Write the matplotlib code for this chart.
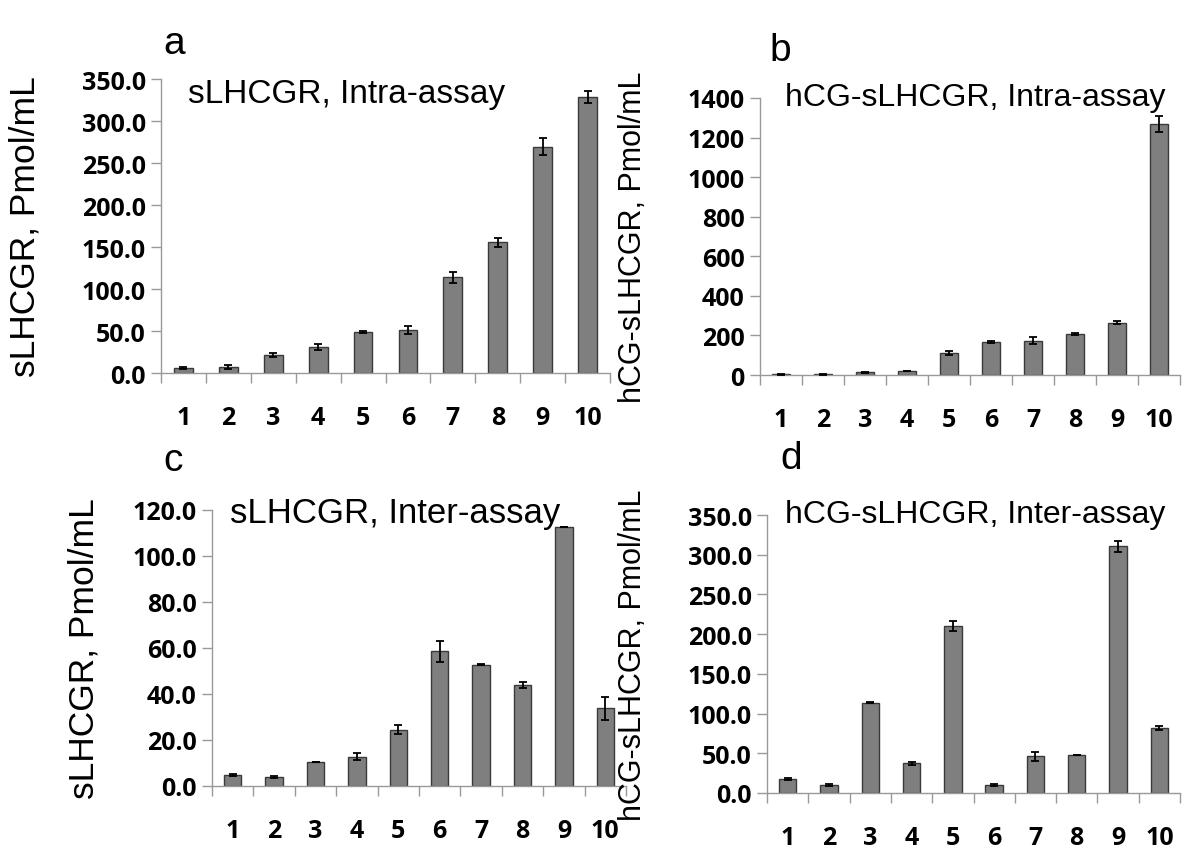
import numpy as np
import matplotlib
matplotlib.use("Agg")
from matplotlib import pyplot as plt
from matplotlib.ticker import FixedLocator, FormatStrFormatter

samples = [str(i) for i in range(1, 11)]

# a: sLHCGR intra-assay
intra_s = [5.6, 7.0, 21.0, 30.5, 49.0, 51.5, 114.0, 155.5, 269.5, 328.5]
intra_s_err = [1.0, 2.0, 2.5, 3.5, 1.0, 5.0, 6.5, 5.0, 10.0, 7.0]
# b: hCG-sLHCGR intra-assay
intra_h = [3.0, 3.0, 14.0, 19.0, 111.0, 169.0, 174.0, 206.0, 264.0, 1267.0]
intra_h_err = [1.0, 1.0, 3.0, 1.0, 10.0, 5.0, 18.0, 4.0, 8.0, 40.0]
# c: sLHCGR inter-assay
inter_s = [4.8, 3.9, 10.5, 12.7, 24.5, 58.6, 52.7, 43.9, 112.5, 33.8]
inter_s_err = [0.5, 0.5, 0.0, 1.5, 2.0, 4.5, 0.3, 1.5, 0.0, 5.0]
# d: hCG-sLHCGR inter-assay
inter_h = [17.8, 9.8, 113.7, 37.3, 210.0, 9.8, 46.2, 48.0, 310.5, 81.9]
inter_h_err = [1.0, 1.0, 1.0, 2.0, 6.0, 1.0, 6.0, 0.0, 7.0, 2.0]

W, H = 1200, 854
fig = plt.figure(figsize=(12, 8.54), dpi=100, facecolor='white')

def px_axes(left, right, top, bottom):
    return fig.add_axes([left / W, 1 - bottom / H, (right - left) / W, (bottom - top) / H])

tickfam = ['Open Sans', 'DejaVu Sans']

panels = [
    # axes px box, values, errors, ymax, ystep, fmt, title, title px, title size,
    # letter, letter px, ylabel, ylabel x px, ylabel size
    ((161, 610, 80, 374), intra_s, intra_s_err, 350, 50, '%.1f',
     'sLHCGR, Intra-assay', (347, 94), 24, 'a', (174, 44), 'sLHCGR, Pmol/mL', 42, 25.5),
    ((760, 1180, 99, 376), intra_h, intra_h_err, 1400, 200, '%d',
     'hCG-sLHCGR, Intra-assay', (975, 98), 23, 'b', (780, 51), 'hCG-sLHCGR, Pmol/mL', 648, 22),
    ((212, 626, 511, 787), inter_s, inter_s_err, 120, 20, '%.1f',
     'sLHCGR, Inter-assay', (395, 514), 25, 'c', (173, 461), 'sLHCGR, Pmol/mL', 101, 25.5),
    ((767, 1180, 516, 794), inter_h, inter_h_err, 350, 50, '%.1f',
     'hCG-sLHCGR, Inter-assay', (975, 515), 23, 'd', (791, 459), 'hCG-sLHCGR, Pmol/mL', 648, 22),
]

for box, vals, errs, ymax, ystep, fmt, title, tpos, tsize, letter, lpos, ylab, ylx, ylsize in panels:
    l, r, t, b = box
    ax = px_axes(l, r, t, b)
    x = np.arange(len(samples))
    ax.bar(x, vals, width=0.42, color='#7f7f7f', edgecolor='#3a3a3a', linewidth=1.0, zorder=2)
    ax.errorbar(x, vals, yerr=errs, fmt='none', ecolor='black', elinewidth=1.3,
                capsize=3, capthick=1.3, zorder=3)
    ax.set_xlim(-0.5, len(samples) - 0.5)
    ax.set_ylim(0, ymax)
    ax.set_yticks(np.arange(0, ymax + 1, ystep))
    ax.yaxis.set_major_formatter(FormatStrFormatter(fmt))
    ax.set_xticks(x)
    ax.set_xticklabels(samples)
    ax.xaxis.set_minor_locator(FixedLocator(np.arange(-0.5, len(samples), 1.0)))
    ax.tick_params(axis='x', which='major', length=0, pad=23)
    ax.tick_params(axis='x', which='minor', length=7, color='#999999', width=1)
    ax.tick_params(axis='y', length=7, color='#999999', width=1, pad=4)
    for lab in ax.get_xticklabels() + ax.get_yticklabels():
        lab.set_fontfamily(tickfam)
        lab.set_fontweight('bold')
        lab.set_fontsize(18)
    for s in ['top', 'right']:
        ax.spines[s].set_visible(False)
    for s in ['left', 'bottom']:
        ax.spines[s].set_color('#999999')
        ax.spines[s].set_linewidth(1)
    ax.set_ylabel(ylab, family='Liberation Sans', fontsize=ylsize)
    ax.yaxis.set_label_coords((ylx - l) / (r - l), 0.5)
    fig.text(tpos[0] / W, 1 - tpos[1] / H, title, family='Liberation Sans', fontsize=tsize,
             ha='center', va='center')
    fig.text(lpos[0] / W, 1 - lpos[1] / H, letter, family='Liberation Sans', fontsize=28,
             ha='center', va='center')

fig.savefig('out.png', dpi=100, facecolor='white')
